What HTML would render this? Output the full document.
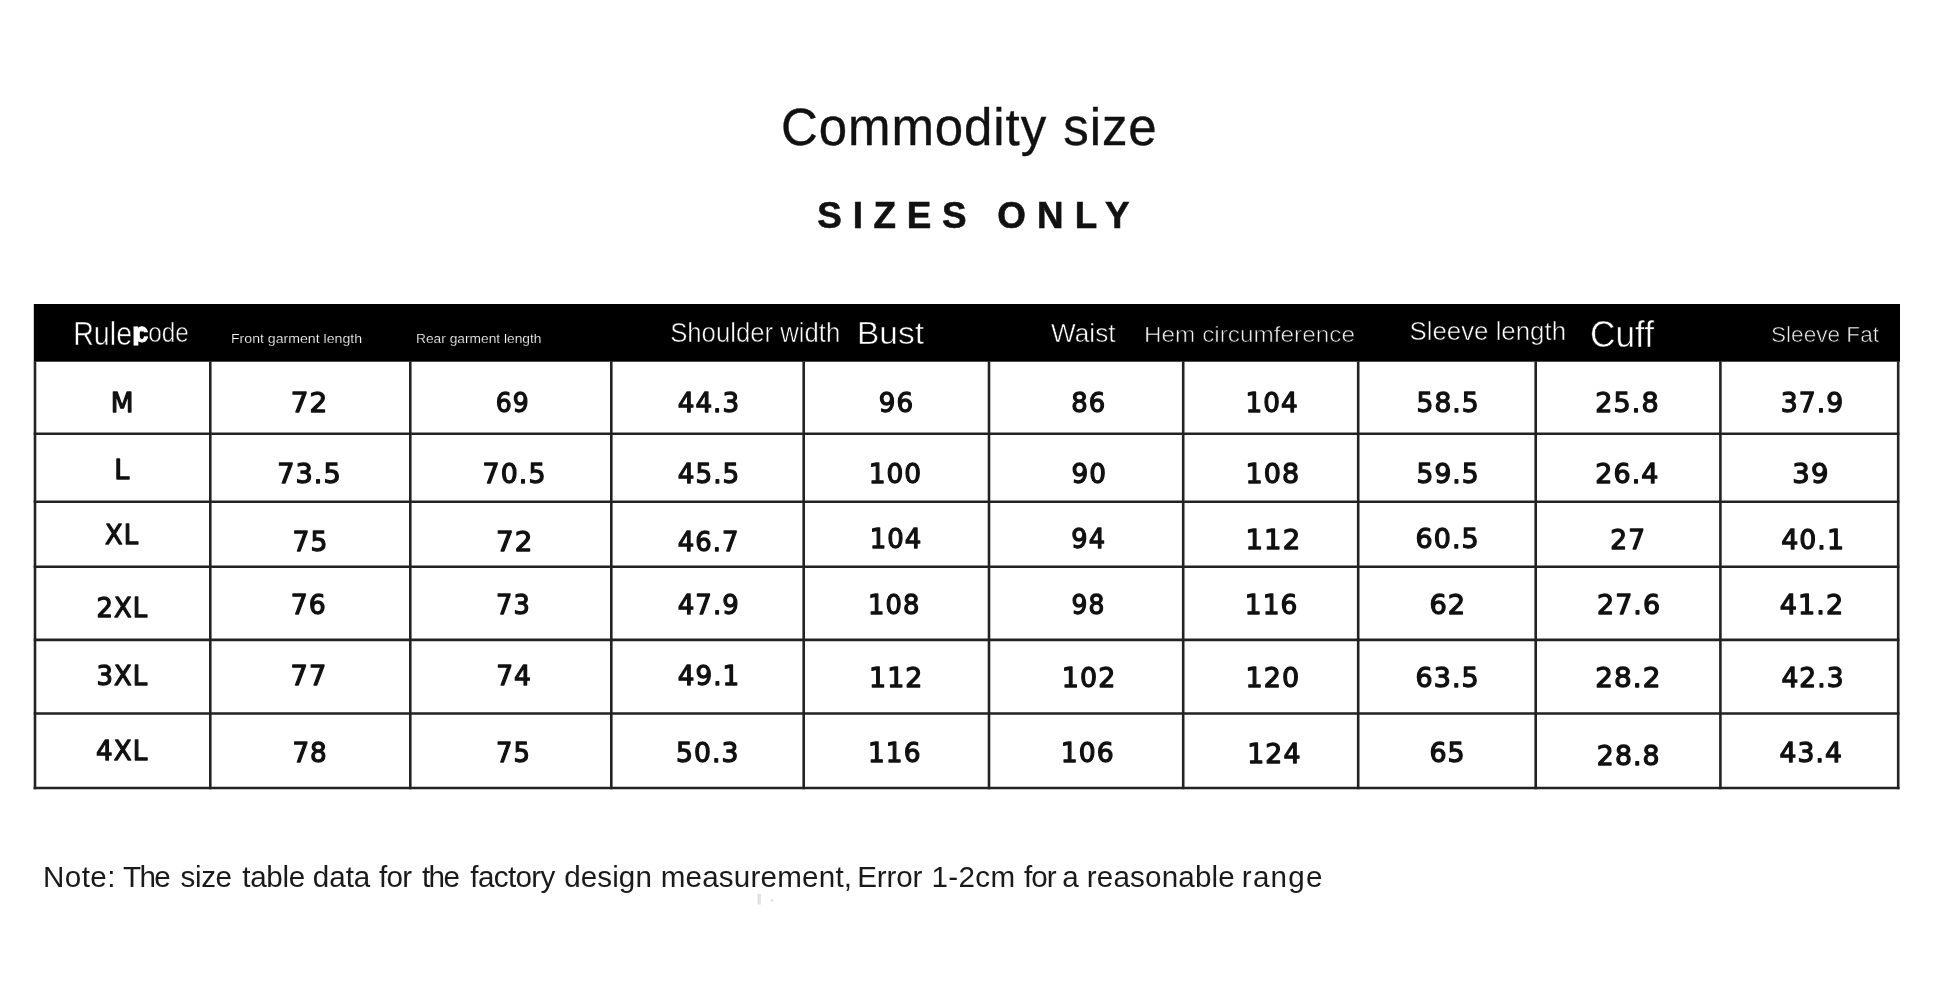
<!DOCTYPE html>
<html lang="en"><head><meta charset="utf-8"><title>Commodity size</title>
<style>
html,body{margin:0;padding:0;background:#fff;}
body{will-change:transform;width:1946px;height:999px;position:relative;overflow:hidden;font-family:"Liberation Sans",sans-serif;color:#111;}
.title{position:absolute;left:0;top:0;margin:0;font-weight:400;white-space:nowrap;}
#t1{left:781.00px;top:99.20px;font-size:51px;line-height:58px;letter-spacing:0.914px;word-spacing:1.06px;-webkit-text-stroke:.35px #111;}
#t2{left:817.50px;top:194.30px;font-size:36.8px;line-height:44px;font-weight:700;-webkit-text-stroke:.6px #111;}
#t2 span{position:absolute;top:0;}
#note{position:absolute;left:44px;top:860.4px;margin:0;font-size:29.6px;line-height:34px;white-space:nowrap;color:#1a1a1a;width:1300px;height:34px;}
#note span{position:absolute;top:0;white-space:pre;}
svg{position:absolute;left:0;top:0;}
.cells text{font-family:"DejaVu Sans","Liberation Sans",sans-serif;font-size:27.4px;text-anchor:middle;fill:#111;stroke:#111;stroke-width:1.3px;stroke-linejoin:round;letter-spacing:1.1px;}
.h{font-family:"Liberation Sans",sans-serif;fill:#fff;stroke:#000;stroke-width:.55px;paint-order:fill stroke;}
.h .blob{font-weight:700;stroke:#fff;stroke-width:.8px;}
.h .dim{fill:#f0f0f0;stroke-width:.6px;}
.h .tiny{fill:#fff;stroke-width:.2px;}
</style></head><body>
<h1 class="title" id="t1">Commodity size</h1>
<h2 class="title" id="t2"><span style="left:-0.15px;letter-spacing:10.725px">SIZES </span><span style="left:179.65px;letter-spacing:11.167px">ONLY</span></h2>
<svg width="1946" height="999" viewBox="0 0 1946 999">

<rect x="33.8" y="304" width="1866.2" height="57.69999999999999" fill="#000"/>
<g stroke="#222" stroke-width="2.6" fill="none">
<line x1="35" y1="361.2" x2="35" y2="789.3"/>
<line x1="210.3" y1="361.2" x2="210.3" y2="789.3"/>
<line x1="410.3" y1="361.2" x2="410.3" y2="789.3"/>
<line x1="611.3" y1="361.2" x2="611.3" y2="789.3"/>
<line x1="803.7" y1="361.2" x2="803.7" y2="789.3"/>
<line x1="989" y1="361.2" x2="989" y2="789.3"/>
<line x1="1183.2" y1="361.2" x2="1183.2" y2="789.3"/>
<line x1="1358.2" y1="361.2" x2="1358.2" y2="789.3"/>
<line x1="1535.7" y1="361.2" x2="1535.7" y2="789.3"/>
<line x1="1720.4" y1="361.2" x2="1720.4" y2="789.3"/>
<line x1="1898.2" y1="361.2" x2="1898.2" y2="789.3"/>
<line x1="33.7" y1="433.7" x2="1899.5" y2="433.7"/>
<line x1="33.7" y1="501.8" x2="1899.5" y2="501.8"/>
<line x1="33.7" y1="566.7" x2="1899.5" y2="566.7"/>
<line x1="33.7" y1="639.9" x2="1899.5" y2="639.9"/>
<line x1="33.7" y1="713.5" x2="1899.5" y2="713.5"/>
<line x1="33.7" y1="788" x2="1899.5" y2="788"/>
</g>
<g class="h">
<text x="73.2" y="345" font-size="33" textLength="70" lengthAdjust="spacingAndGlyphs">Rule<tspan class="blob">r</tspan></text>
<text x="134.7" y="341.9" font-size="27.5" textLength="54.2" lengthAdjust="spacingAndGlyphs"><tspan class="blob">c</tspan>ode</text>
<text class="tiny" x="231" y="342.6" font-size="12.6" textLength="131" lengthAdjust="spacingAndGlyphs">Front garment length</text>
<text class="tiny" x="416" y="342.6" font-size="12.6" textLength="125.5" lengthAdjust="spacingAndGlyphs">Rear garment length</text>
<text x="670.2" y="342.4" font-size="27" textLength="170" lengthAdjust="spacingAndGlyphs">Shoulder width</text>
<text x="857" y="344" font-size="31.4" textLength="67" lengthAdjust="spacingAndGlyphs">Bust</text>
<text x="1051" y="342.3" font-size="26.4" textLength="64.5" lengthAdjust="spacingAndGlyphs">Waist</text>
<text class="dim" x="1144" y="342.2" font-size="22.6" textLength="211" lengthAdjust="spacingAndGlyphs">Hem circumference</text>
<text x="1409.5" y="340.2" font-size="26.2" textLength="156.5" lengthAdjust="spacingAndGlyphs">Sleeve length</text>
<text x="1590" y="347" font-size="36.5" textLength="64" lengthAdjust="spacingAndGlyphs">Cuff</text>
<text class="dim" x="1771" y="342.2" font-size="21.6" textLength="108" lengthAdjust="spacingAndGlyphs">Sleeve Fat</text>
</g>

<g class="cells">
<g><text transform="translate(122.60 412.30) scale(0.963 1)">M</text><text transform="translate(309.50 412.48) scale(1.018 1)">72</text><text transform="translate(512.83 412.35) scale(0.917 1)">69</text><text transform="translate(708.90 412.35) scale(0.954 1)">44.3</text><text transform="translate(896.50 412.35) scale(0.954 1)">96</text><text transform="translate(1088.82 412.35) scale(0.943 1)">86</text><text transform="translate(1272.15 412.35) scale(0.958 1)">104</text><text transform="translate(1448.15 412.35) scale(0.968 1)">58.5</text><text transform="translate(1627.50 412.35) scale(0.985 1)">25.8</text><text transform="translate(1812.50 412.35) scale(0.974 1)">37.9</text></g>
<g><text transform="translate(122.20 478.95) scale(0.984 1)">L</text><text transform="translate(309.55 482.65) scale(0.991 1)">73.5</text><text transform="translate(514.53 482.65) scale(0.978 1)">70.5</text><text transform="translate(709.03 482.52) scale(0.957 1)">45.5</text><text transform="translate(895.42 482.65) scale(0.964 1)">100</text><text transform="translate(1089.28 482.65) scale(0.961 1)">90</text><text transform="translate(1272.90 482.65) scale(0.984 1)">108</text><text transform="translate(1448.15 482.65) scale(0.968 1)">59.5</text><text transform="translate(1627.38 482.65) scale(0.981 1)">26.4</text><text transform="translate(1810.95 482.65) scale(1.004 1)">39</text></g>
<g><text transform="translate(122.05 544.15) scale(0.941 1)">XL</text><text transform="translate(310.38 550.53) scale(0.970 1)">75</text><text transform="translate(514.78 551.03) scale(1.010 1)">72</text><text transform="translate(708.70 550.80) scale(0.944 1)">46.7</text><text transform="translate(896.10 548.30) scale(0.947 1)">104</text><text transform="translate(1088.70 548.30) scale(0.937 1)">94</text><text transform="translate(1273.40 549.27) scale(1.002 1)">112</text><text transform="translate(1447.65 548.30) scale(0.982 1)">60.5</text><text transform="translate(1628.25 548.98) scale(0.965 1)">27</text><text transform="translate(1813.10 548.85) scale(0.975 1)">40.1</text></g>
<g><text transform="translate(122.40 617.12) scale(0.944 1)">2XL</text><text transform="translate(308.67 613.50) scale(0.974 1)">76</text><text transform="translate(513.40 613.80) scale(0.936 1)">73</text><text transform="translate(708.78 614.10) scale(0.950 1)">47.9</text><text transform="translate(894.22 614.10) scale(0.941 1)">108</text><text transform="translate(1088.45 614.10) scale(0.911 1)">98</text><text transform="translate(1271.62 614.10) scale(0.963 1)">116</text><text transform="translate(1447.85 614.10) scale(0.995 1)">62</text><text transform="translate(1629.05 614.40) scale(0.983 1)">27.6</text><text transform="translate(1811.93 614.48) scale(0.987 1)">41.2</text></g>
<g><text transform="translate(122.40 684.65) scale(0.944 1)">3XL</text><text transform="translate(309.05 684.65) scale(0.995 1)">77</text><text transform="translate(514.10 684.65) scale(0.967 1)">74</text><text transform="translate(709.03 684.65) scale(0.957 1)">49.1</text><text transform="translate(896.28 687.42) scale(0.981 1)">112</text><text transform="translate(1089.12 687.30) scale(0.981 1)">102</text><text transform="translate(1272.90 687.30) scale(0.984 1)">120</text><text transform="translate(1447.65 687.30) scale(0.982 1)">63.5</text><text transform="translate(1628.38 687.30) scale(1.017 1)">28.2</text><text transform="translate(1813.00 687.30) scale(0.966 1)">42.3</text></g>
<g><text transform="translate(122.15 759.65) scale(0.953 1)">4XL</text><text transform="translate(310.12 762.30) scale(0.956 1)">78</text><text transform="translate(513.53 762.17) scale(0.943 1)">75</text><text transform="translate(707.70 762.30) scale(0.972 1)">50.3</text><text transform="translate(894.78 762.30) scale(0.963 1)">116</text><text transform="translate(1087.80 762.30) scale(0.972 1)">106</text><text transform="translate(1274.35 763.27) scale(0.975 1)">124</text><text transform="translate(1447.60 762.30) scale(0.981 1)">65</text><text transform="translate(1628.70 765.30) scale(0.975 1)">28.8</text><text transform="translate(1811.30 762.30) scale(0.969 1)">43.4</text></g>
</g>
<g stroke="#b9b9b9" stroke-width=".7" fill="none"><line x1="758.2" y1="894" x2="758.2" y2="904.5"/><line x1="760" y1="894" x2="760" y2="904.5"/><circle cx="772" cy="900.5" r=".9" stroke="#ccc"/></g>
</svg>
<p id="note"><span style="left:-1.0px;letter-spacing:0.41px">Note: </span><span style="left:79.0px;letter-spacing:-1.68px">The </span><span style="left:136.5px;letter-spacing:-0.35px">size </span><span style="left:198.3px;letter-spacing:-0.31px">table </span><span style="left:268.8px;letter-spacing:-0.03px">data </span><span style="left:335.0px;letter-spacing:-0.75px">for </span><span style="left:378.0px;letter-spacing:-1.60px">the </span><span style="left:426.3px;letter-spacing:-0.63px">factory </span><span style="left:520.2px;letter-spacing:0.09px">design </span><span style="left:616.7px;letter-spacing:0.20px">measurement, </span><span style="left:813.3px;letter-spacing:-0.19px">Error </span><span style="left:887.5px;letter-spacing:0.33px">1-2cm </span><span style="left:980.0px;letter-spacing:-0.97px">for </span><span style="left:1018.2px;letter-spacing:0.00px">a </span><span style="left:1042.8px;letter-spacing:0.17px">reasonable </span><span style="left:1197.8px;letter-spacing:1.25px">range </span></p>
</body></html>
